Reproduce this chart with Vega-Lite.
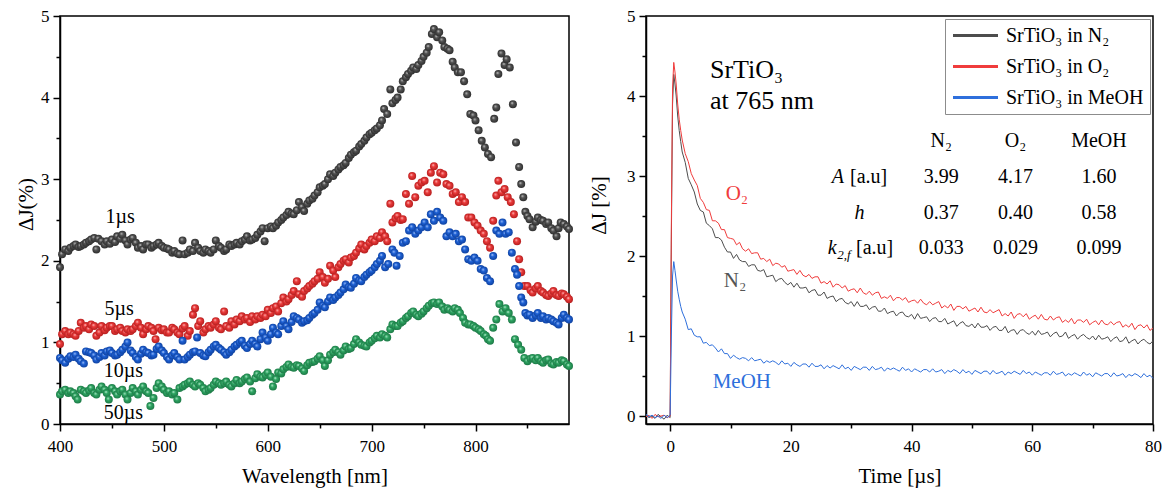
{
"$schema": "https://vega.github.io/schema/vega-lite/v6.json",
"padding": {"left": 14, "top": 6, "right": 5, "bottom": 5},
"spacing": 77,
"bounds": "flush",
"resolve": {"scale": {"color": "independent"}, "legend": {"color": "independent"}},
"datasets": {
"k1": [{"w":400,"y":1.92},{"w":402,"y":2.08},{"w":405,"y":2.14},{"w":408,"y":2.12},{"w":410,"y":2.16},{"w":413,"y":2.18},{"w":415,"y":2.2},{"w":418,"y":2.17},{"w":420,"y":2.18},{"w":423,"y":2.2},{"w":425,"y":2.22},{"w":428,"y":2.24},{"w":430,"y":2.26},{"w":433,"y":2.28},{"w":435,"y":2.14},{"w":437,"y":2.27},{"w":440,"y":2.24},{"w":443,"y":2.2},{"w":445,"y":2.24},{"w":448,"y":2.21},{"w":450,"y":2.26},{"w":453,"y":2.23},{"w":455,"y":2.3},{"w":458,"y":2.27},{"w":460,"y":2.32},{"w":463,"y":2.25},{"w":465,"y":2.2},{"w":468,"y":2.26},{"w":470,"y":2.28},{"w":473,"y":2.22},{"w":475,"y":2.16},{"w":478,"y":2.18},{"w":480,"y":2.14},{"w":483,"y":2.2},{"w":485,"y":2.2},{"w":488,"y":2.16},{"w":490,"y":2.18},{"w":493,"y":2.2},{"w":495,"y":2.22},{"w":498,"y":2.18},{"w":500,"y":2.16},{"w":503,"y":2.15},{"w":505,"y":2.14},{"w":508,"y":2.1},{"w":510,"y":2.12},{"w":513,"y":2.09},{"w":515,"y":2.08},{"w":518,"y":2.25},{"w":520,"y":2.08},{"w":523,"y":2.1},{"w":525,"y":2.14},{"w":528,"y":2.12},{"w":530,"y":2.22},{"w":533,"y":2.16},{"w":535,"y":2.12},{"w":538,"y":2.1},{"w":540,"y":2.14},{"w":543,"y":2.12},{"w":545,"y":2.1},{"w":548,"y":2.14},{"w":550,"y":2.25},{"w":553,"y":2.18},{"w":555,"y":2.16},{"w":558,"y":2.12},{"w":560,"y":2.14},{"w":563,"y":2.2},{"w":565,"y":2.18},{"w":568,"y":2.2},{"w":570,"y":2.22},{"w":573,"y":2.2},{"w":575,"y":2.24},{"w":578,"y":2.26},{"w":580,"y":2.3},{"w":583,"y":2.25},{"w":585,"y":2.26},{"w":588,"y":2.28},{"w":590,"y":2.32},{"w":593,"y":2.36},{"w":595,"y":2.4},{"w":597,"y":2.24},{"w":600,"y":2.4},{"w":603,"y":2.42},{"w":605,"y":2.4},{"w":608,"y":2.43},{"w":610,"y":2.47},{"w":613,"y":2.5},{"w":615,"y":2.53},{"w":618,"y":2.56},{"w":620,"y":2.6},{"w":623,"y":2.58},{"w":625,"y":2.57},{"w":628,"y":2.62},{"w":630,"y":2.72},{"w":633,"y":2.66},{"w":635,"y":2.61},{"w":638,"y":2.7},{"w":640,"y":2.74},{"w":643,"y":2.76},{"w":645,"y":2.8},{"w":648,"y":2.84},{"w":650,"y":2.9},{"w":653,"y":2.92},{"w":655,"y":2.94},{"w":658,"y":3.0},{"w":660,"y":3.06},{"w":663,"y":3.04},{"w":665,"y":3.08},{"w":668,"y":3.12},{"w":670,"y":3.15},{"w":673,"y":3.17},{"w":675,"y":3.2},{"w":678,"y":3.26},{"w":680,"y":3.3},{"w":683,"y":3.33},{"w":685,"y":3.35},{"w":688,"y":3.4},{"w":690,"y":3.43},{"w":693,"y":3.47},{"w":695,"y":3.51},{"w":698,"y":3.55},{"w":700,"y":3.57},{"w":703,"y":3.6},{"w":705,"y":3.62},{"w":708,"y":3.66},{"w":710,"y":3.72},{"w":712,"y":3.86},{"w":715,"y":3.8},{"w":718,"y":4.1},{"w":720,"y":3.93},{"w":723,"y":3.97},{"w":725,"y":4.0},{"w":728,"y":4.1},{"w":730,"y":4.2},{"w":733,"y":4.25},{"w":735,"y":4.29},{"w":738,"y":4.33},{"w":740,"y":4.37},{"w":743,"y":4.35},{"w":745,"y":4.4},{"w":748,"y":4.45},{"w":750,"y":4.5},{"w":753,"y":4.55},{"w":755,"y":4.62},{"w":758,"y":4.78},{"w":760,"y":4.84},{"w":763,"y":4.74},{"w":765,"y":4.8},{"w":768,"y":4.7},{"w":770,"y":4.62},{"w":773,"y":4.6},{"w":775,"y":4.58},{"w":778,"y":4.44},{"w":780,"y":4.37},{"w":783,"y":4.31},{"w":786,"y":4.31},{"w":789,"y":4.2},{"w":792,"y":4.04},{"w":795,"y":3.8},{"w":798,"y":3.78},{"w":800,"y":3.72},{"w":803,"y":3.6},{"w":806,"y":3.47},{"w":809,"y":3.39},{"w":812,"y":3.31},{"w":815,"y":3.27},{"w":818,"y":3.74},{"w":820,"y":3.88},{"w":822,"y":4.29},{"w":825,"y":4.54},{"w":828,"y":4.4},{"w":830,"y":4.47},{"w":833,"y":4.37},{"w":836,"y":3.92},{"w":839,"y":3.45},{"w":842,"y":3.15},{"w":844,"y":2.94},{"w":846,"y":2.78},{"w":848,"y":2.6},{"w":850,"y":2.55},{"w":852,"y":2.51},{"w":855,"y":2.41},{"w":858,"y":2.48},{"w":860,"y":2.53},{"w":863,"y":2.5},{"w":865,"y":2.49},{"w":868,"y":2.45},{"w":870,"y":2.47},{"w":873,"y":2.4},{"w":875,"y":2.37},{"w":878,"y":2.3},{"w":880,"y":2.4},{"w":882,"y":2.47},{"w":885,"y":2.45},{"w":888,"y":2.42},{"w":890,"y":2.39}],
"k5": [{"w":400,"y":0.98},{"w":402,"y":1.1},{"w":405,"y":1.14},{"w":408,"y":1.1},{"w":410,"y":1.12},{"w":413,"y":1.1},{"w":415,"y":1.08},{"w":418,"y":1.14},{"w":420,"y":1.24},{"w":423,"y":1.18},{"w":425,"y":1.2},{"w":428,"y":1.16},{"w":430,"y":1.22},{"w":433,"y":1.2},{"w":435,"y":1.08},{"w":438,"y":1.12},{"w":440,"y":1.2},{"w":443,"y":1.15},{"w":445,"y":1.18},{"w":448,"y":1.2},{"w":450,"y":1.2},{"w":453,"y":1.14},{"w":455,"y":1.16},{"w":458,"y":1.18},{"w":460,"y":1.14},{"w":463,"y":1.12},{"w":465,"y":1.16},{"w":468,"y":1.14},{"w":470,"y":1.16},{"w":473,"y":1.2},{"w":475,"y":1.24},{"w":478,"y":1.18},{"w":480,"y":1.1},{"w":483,"y":1.16},{"w":485,"y":1.2},{"w":488,"y":1.18},{"w":490,"y":1.14},{"w":492,"y":1.04},{"w":495,"y":1.18},{"w":498,"y":1.15},{"w":500,"y":1.16},{"w":503,"y":1.12},{"w":505,"y":1.12},{"w":508,"y":1.18},{"w":510,"y":1.16},{"w":513,"y":1.12},{"w":515,"y":1.1},{"w":518,"y":1.17},{"w":520,"y":1.2},{"w":523,"y":1.08},{"w":525,"y":1.14},{"w":528,"y":1.34},{"w":530,"y":1.42},{"w":533,"y":1.2},{"w":535,"y":1.26},{"w":538,"y":1.12},{"w":540,"y":1.16},{"w":543,"y":1.2},{"w":545,"y":1.18},{"w":548,"y":1.22},{"w":550,"y":1.26},{"w":553,"y":1.18},{"w":555,"y":1.16},{"w":558,"y":1.38},{"w":560,"y":1.2},{"w":563,"y":1.18},{"w":565,"y":1.26},{"w":568,"y":1.22},{"w":570,"y":1.28},{"w":573,"y":1.26},{"w":575,"y":1.32},{"w":578,"y":1.28},{"w":580,"y":1.3},{"w":583,"y":1.25},{"w":585,"y":1.32},{"w":588,"y":1.28},{"w":590,"y":1.32},{"w":593,"y":1.3},{"w":595,"y":1.34},{"w":598,"y":1.32},{"w":600,"y":1.4},{"w":603,"y":1.36},{"w":605,"y":1.42},{"w":608,"y":1.44},{"w":610,"y":1.38},{"w":613,"y":1.48},{"w":615,"y":1.55},{"w":618,"y":1.5},{"w":620,"y":1.53},{"w":623,"y":1.58},{"w":625,"y":1.63},{"w":628,"y":1.75},{"w":630,"y":1.59},{"w":633,"y":1.56},{"w":635,"y":1.63},{"w":638,"y":1.66},{"w":640,"y":1.69},{"w":643,"y":1.72},{"w":645,"y":1.75},{"w":648,"y":1.78},{"w":650,"y":1.86},{"w":653,"y":1.8},{"w":655,"y":1.73},{"w":658,"y":1.78},{"w":660,"y":1.94},{"w":663,"y":1.88},{"w":665,"y":1.8},{"w":668,"y":1.92},{"w":670,"y":1.96},{"w":673,"y":2.0},{"w":675,"y":2.02},{"w":678,"y":1.98},{"w":680,"y":2.04},{"w":683,"y":2.06},{"w":685,"y":2.1},{"w":688,"y":2.15},{"w":690,"y":2.2},{"w":693,"y":2.14},{"w":695,"y":2.18},{"w":698,"y":2.22},{"w":700,"y":2.26},{"w":703,"y":2.24},{"w":705,"y":2.3},{"w":708,"y":2.28},{"w":710,"y":2.35},{"w":713,"y":2.3},{"w":715,"y":2.24},{"w":718,"y":2.7},{"w":720,"y":2.47},{"w":723,"y":2.52},{"w":725,"y":2.55},{"w":728,"y":2.5},{"w":730,"y":2.51},{"w":733,"y":2.82},{"w":736,"y":2.7},{"w":739,"y":3.04},{"w":742,"y":2.78},{"w":745,"y":2.92},{"w":748,"y":2.96},{"w":751,"y":2.98},{"w":754,"y":2.84},{"w":757,"y":3.08},{"w":760,"y":3.16},{"w":763,"y":2.96},{"w":766,"y":3.08},{"w":769,"y":3.06},{"w":772,"y":2.94},{"w":775,"y":2.92},{"w":778,"y":2.82},{"w":781,"y":2.84},{"w":784,"y":2.72},{"w":787,"y":2.78},{"w":790,"y":2.72},{"w":793,"y":2.53},{"w":796,"y":2.53},{"w":799,"y":2.47},{"w":802,"y":2.43},{"w":805,"y":2.37},{"w":808,"y":2.33},{"w":811,"y":2.24},{"w":814,"y":2.16},{"w":817,"y":2.49},{"w":820,"y":2.8},{"w":822,"y":2.98},{"w":825,"y":2.84},{"w":828,"y":2.88},{"w":831,"y":2.78},{"w":834,"y":2.72},{"w":837,"y":2.57},{"w":840,"y":2.24},{"w":842,"y":2.02},{"w":844,"y":1.86},{"w":847,"y":1.69},{"w":850,"y":1.69},{"w":853,"y":1.64},{"w":855,"y":1.61},{"w":858,"y":1.66},{"w":860,"y":1.69},{"w":863,"y":1.63},{"w":865,"y":1.61},{"w":868,"y":1.58},{"w":870,"y":1.57},{"w":873,"y":1.6},{"w":875,"y":1.63},{"w":878,"y":1.58},{"w":880,"y":1.57},{"w":883,"y":1.6},{"w":885,"y":1.59},{"w":888,"y":1.56},{"w":890,"y":1.53}],
"k10": [{"w":400,"y":0.81},{"w":402,"y":0.78},{"w":405,"y":0.75},{"w":408,"y":0.8},{"w":410,"y":0.83},{"w":413,"y":0.82},{"w":415,"y":0.85},{"w":418,"y":0.8},{"w":420,"y":0.77},{"w":423,"y":0.74},{"w":425,"y":0.89},{"w":428,"y":0.88},{"w":430,"y":0.87},{"w":433,"y":0.84},{"w":435,"y":0.79},{"w":438,"y":0.82},{"w":440,"y":0.87},{"w":443,"y":0.84},{"w":445,"y":0.89},{"w":448,"y":0.9},{"w":450,"y":0.87},{"w":453,"y":0.84},{"w":455,"y":0.85},{"w":458,"y":0.88},{"w":460,"y":0.91},{"w":463,"y":0.95},{"w":465,"y":1.0},{"w":468,"y":0.9},{"w":470,"y":0.87},{"w":473,"y":0.82},{"w":475,"y":0.79},{"w":478,"y":0.86},{"w":480,"y":0.91},{"w":483,"y":0.88},{"w":485,"y":0.87},{"w":488,"y":0.84},{"w":490,"y":0.85},{"w":493,"y":0.92},{"w":495,"y":0.95},{"w":498,"y":0.9},{"w":500,"y":0.87},{"w":503,"y":0.82},{"w":505,"y":0.79},{"w":508,"y":0.84},{"w":510,"y":0.87},{"w":513,"y":0.82},{"w":515,"y":0.79},{"w":518,"y":1.02},{"w":520,"y":0.79},{"w":523,"y":0.82},{"w":525,"y":0.85},{"w":528,"y":0.88},{"w":530,"y":0.89},{"w":532,"y":1.06},{"w":535,"y":0.87},{"w":538,"y":0.84},{"w":540,"y":0.83},{"w":543,"y":0.88},{"w":545,"y":0.91},{"w":548,"y":0.95},{"w":550,"y":0.97},{"w":553,"y":0.93},{"w":555,"y":0.91},{"w":558,"y":0.88},{"w":560,"y":0.85},{"w":563,"y":0.88},{"w":565,"y":0.91},{"w":568,"y":0.95},{"w":570,"y":0.97},{"w":573,"y":1.0},{"w":575,"y":1.02},{"w":578,"y":0.96},{"w":580,"y":0.93},{"w":583,"y":0.98},{"w":585,"y":1.02},{"w":588,"y":0.98},{"w":590,"y":0.95},{"w":593,"y":1.04},{"w":595,"y":1.12},{"w":598,"y":1.06},{"w":600,"y":1.02},{"w":603,"y":1.1},{"w":605,"y":1.18},{"w":608,"y":1.12},{"w":610,"y":1.1},{"w":613,"y":1.2},{"w":615,"y":1.26},{"w":618,"y":1.2},{"w":620,"y":1.16},{"w":623,"y":1.25},{"w":625,"y":1.32},{"w":628,"y":1.3},{"w":630,"y":1.28},{"w":633,"y":1.24},{"w":635,"y":1.26},{"w":638,"y":1.27},{"w":640,"y":1.3},{"w":643,"y":1.34},{"w":645,"y":1.36},{"w":648,"y":1.4},{"w":650,"y":1.49},{"w":653,"y":1.45},{"w":655,"y":1.43},{"w":658,"y":1.5},{"w":660,"y":1.55},{"w":663,"y":1.52},{"w":665,"y":1.55},{"w":668,"y":1.58},{"w":670,"y":1.61},{"w":673,"y":1.65},{"w":675,"y":1.71},{"w":678,"y":1.68},{"w":680,"y":1.67},{"w":683,"y":1.72},{"w":685,"y":1.79},{"w":688,"y":1.76},{"w":690,"y":1.75},{"w":693,"y":1.8},{"w":695,"y":1.83},{"w":698,"y":1.86},{"w":700,"y":1.88},{"w":703,"y":1.92},{"w":705,"y":1.96},{"w":708,"y":2.0},{"w":710,"y":2.06},{"w":713,"y":1.92},{"w":716,"y":1.96},{"w":720,"y":2.14},{"w":722,"y":2.1},{"w":724,"y":1.94},{"w":727,"y":2.06},{"w":730,"y":2.22},{"w":733,"y":2.24},{"w":736,"y":2.37},{"w":739,"y":2.41},{"w":742,"y":2.33},{"w":745,"y":2.37},{"w":748,"y":2.41},{"w":751,"y":2.47},{"w":754,"y":2.41},{"w":757,"y":2.57},{"w":760,"y":2.49},{"w":763,"y":2.6},{"w":766,"y":2.53},{"w":769,"y":2.49},{"w":772,"y":2.3},{"w":775,"y":2.35},{"w":778,"y":2.3},{"w":781,"y":2.33},{"w":784,"y":2.24},{"w":787,"y":2.26},{"w":790,"y":2.14},{"w":793,"y":2.02},{"w":796,"y":2.0},{"w":799,"y":2.04},{"w":802,"y":2.0},{"w":805,"y":1.9},{"w":808,"y":1.88},{"w":811,"y":1.79},{"w":814,"y":1.75},{"w":817,"y":2.06},{"w":820,"y":2.37},{"w":823,"y":2.33},{"w":826,"y":2.47},{"w":829,"y":2.33},{"w":832,"y":2.35},{"w":835,"y":2.1},{"w":838,"y":1.9},{"w":840,"y":1.83},{"w":842,"y":1.69},{"w":844,"y":1.55},{"w":846,"y":1.49},{"w":848,"y":1.36},{"w":850,"y":1.33},{"w":852,"y":1.34},{"w":855,"y":1.3},{"w":858,"y":1.33},{"w":860,"y":1.36},{"w":863,"y":1.3},{"w":865,"y":1.32},{"w":868,"y":1.28},{"w":870,"y":1.3},{"w":873,"y":1.28},{"w":875,"y":1.26},{"w":878,"y":1.24},{"w":880,"y":1.22},{"w":883,"y":1.3},{"w":885,"y":1.34},{"w":888,"y":1.3},{"w":890,"y":1.28}],
"k50": [{"w":400,"y":0.36},{"w":402,"y":0.4},{"w":405,"y":0.42},{"w":408,"y":0.38},{"w":410,"y":0.4},{"w":413,"y":0.38},{"w":415,"y":0.34},{"w":417,"y":0.3},{"w":420,"y":0.42},{"w":423,"y":0.4},{"w":425,"y":0.38},{"w":428,"y":0.41},{"w":430,"y":0.44},{"w":433,"y":0.38},{"w":435,"y":0.36},{"w":438,"y":0.42},{"w":440,"y":0.46},{"w":443,"y":0.42},{"w":445,"y":0.38},{"w":447,"y":0.3},{"w":450,"y":0.44},{"w":453,"y":0.4},{"w":455,"y":0.36},{"w":458,"y":0.4},{"w":460,"y":0.42},{"w":463,"y":0.36},{"w":465,"y":0.3},{"w":468,"y":0.38},{"w":470,"y":0.44},{"w":473,"y":0.4},{"w":475,"y":0.36},{"w":478,"y":0.42},{"w":480,"y":0.46},{"w":483,"y":0.4},{"w":485,"y":0.38},{"w":487,"y":0.22},{"w":490,"y":0.32},{"w":493,"y":0.44},{"w":495,"y":0.5},{"w":498,"y":0.46},{"w":500,"y":0.42},{"w":503,"y":0.38},{"w":505,"y":0.4},{"w":508,"y":0.36},{"w":510,"y":0.38},{"w":513,"y":0.3},{"w":515,"y":0.44},{"w":518,"y":0.46},{"w":520,"y":0.48},{"w":523,"y":0.5},{"w":525,"y":0.52},{"w":528,"y":0.48},{"w":530,"y":0.46},{"w":533,"y":0.5},{"w":535,"y":0.48},{"w":538,"y":0.44},{"w":540,"y":0.4},{"w":543,"y":0.42},{"w":545,"y":0.44},{"w":548,"y":0.48},{"w":550,"y":0.52},{"w":553,"y":0.5},{"w":555,"y":0.48},{"w":558,"y":0.5},{"w":560,"y":0.52},{"w":563,"y":0.48},{"w":565,"y":0.46},{"w":568,"y":0.5},{"w":570,"y":0.54},{"w":573,"y":0.5},{"w":575,"y":0.52},{"w":578,"y":0.55},{"w":580,"y":0.57},{"w":583,"y":0.52},{"w":585,"y":0.4},{"w":588,"y":0.56},{"w":590,"y":0.61},{"w":593,"y":0.58},{"w":595,"y":0.57},{"w":598,"y":0.6},{"w":600,"y":0.63},{"w":603,"y":0.58},{"w":605,"y":0.46},{"w":608,"y":0.55},{"w":610,"y":0.63},{"w":613,"y":0.62},{"w":615,"y":0.67},{"w":618,"y":0.7},{"w":620,"y":0.73},{"w":623,"y":0.7},{"w":625,"y":0.69},{"w":628,"y":0.72},{"w":630,"y":0.71},{"w":633,"y":0.68},{"w":635,"y":0.65},{"w":638,"y":0.72},{"w":640,"y":0.75},{"w":643,"y":0.76},{"w":645,"y":0.77},{"w":648,"y":0.8},{"w":650,"y":0.83},{"w":653,"y":0.78},{"w":655,"y":0.71},{"w":658,"y":0.78},{"w":660,"y":0.85},{"w":663,"y":0.88},{"w":665,"y":0.91},{"w":668,"y":0.88},{"w":670,"y":0.85},{"w":673,"y":0.9},{"w":675,"y":0.95},{"w":678,"y":0.92},{"w":680,"y":0.93},{"w":683,"y":0.98},{"w":685,"y":1.04},{"w":688,"y":1.0},{"w":690,"y":0.97},{"w":693,"y":0.96},{"w":695,"y":0.95},{"w":698,"y":1.0},{"w":700,"y":1.02},{"w":703,"y":1.05},{"w":705,"y":1.08},{"w":708,"y":1.06},{"w":710,"y":1.1},{"w":713,"y":1.08},{"w":715,"y":1.06},{"w":718,"y":1.16},{"w":720,"y":1.22},{"w":723,"y":1.2},{"w":725,"y":1.2},{"w":728,"y":1.24},{"w":730,"y":1.26},{"w":733,"y":1.3},{"w":735,"y":1.32},{"w":738,"y":1.36},{"w":740,"y":1.38},{"w":743,"y":1.34},{"w":745,"y":1.32},{"w":748,"y":1.35},{"w":750,"y":1.38},{"w":753,"y":1.42},{"w":755,"y":1.45},{"w":758,"y":1.48},{"w":760,"y":1.49},{"w":763,"y":1.47},{"w":765,"y":1.49},{"w":768,"y":1.44},{"w":770,"y":1.4},{"w":773,"y":1.42},{"w":775,"y":1.4},{"w":778,"y":1.38},{"w":780,"y":1.42},{"w":783,"y":1.4},{"w":785,"y":1.36},{"w":788,"y":1.3},{"w":790,"y":1.24},{"w":793,"y":1.22},{"w":795,"y":1.22},{"w":798,"y":1.2},{"w":800,"y":1.18},{"w":803,"y":1.16},{"w":805,"y":1.14},{"w":808,"y":1.1},{"w":810,"y":1.08},{"w":812,"y":1.04},{"w":814,"y":1.02},{"w":817,"y":1.18},{"w":820,"y":1.28},{"w":823,"y":1.47},{"w":826,"y":1.38},{"w":829,"y":1.42},{"w":832,"y":1.36},{"w":835,"y":1.28},{"w":838,"y":1.04},{"w":841,"y":0.97},{"w":844,"y":0.91},{"w":847,"y":0.81},{"w":850,"y":0.77},{"w":853,"y":0.8},{"w":855,"y":0.81},{"w":858,"y":0.78},{"w":860,"y":0.81},{"w":863,"y":0.77},{"w":865,"y":0.75},{"w":868,"y":0.78},{"w":870,"y":0.79},{"w":873,"y":0.74},{"w":875,"y":0.73},{"w":878,"y":0.76},{"w":880,"y":0.75},{"w":883,"y":0.78},{"w":885,"y":0.77},{"w":888,"y":0.73},{"w":890,"y":0.71}],
"spLabels": [{"w":458,"y":2.54,"t":"1µs"},{"w":457,"y":1.41,"t":"5µs"},{"w":461,"y":0.65,"t":"10µs"},{"w":461,"y":0.13,"t":"50µs"}],
"tr": [
{"t":-4,"N2":0.01,"O2":-0.01,"MeOH":0.02},{"t":-3.5,"N2":-0.02,"O2":0.01,"MeOH":-0.01},{"t":-3,"N2":0.0,"O2":-0.03,"MeOH":0.01},{"t":-2.5,"N2":-0.03,"O2":0.02,"MeOH":-0.02},{"t":-2,"N2":0.02,"O2":-0.01,"MeOH":0.0},{"t":-1.5,"N2":-0.01,"O2":0.0,"MeOH":-0.03},{"t":-1,"N2":-0.04,"O2":0.01,"MeOH":0.01},{"t":-0.5,"N2":0.01,"O2":-0.02,"MeOH":-0.02},{"t":0,"N2":-0.02,"O2":0.0,"MeOH":0.01},
{"t":0.2,"N2":2.2,"O2":2.4,"MeOH":1.0},{"t":0.4,"N2":3.9,"O2":4.1,"MeOH":1.75},{"t":0.6,"N2":4.27,"O2":4.42,"MeOH":1.93},{"t":0.8,"N2":4.15,"O2":4.3,"MeOH":1.82},{"t":1.0,"N2":4.0,"O2":4.15,"MeOH":1.7},{"t":1.25,"N2":3.75,"O2":3.9,"MeOH":1.56},{"t":1.5,"N2":3.57,"O2":3.71,"MeOH":1.46},{"t":1.75,"N2":3.43,"O2":3.57,"MeOH":1.37},{"t":2.0,"N2":3.3,"O2":3.45,"MeOH":1.3},
{"t":2.5,"N2":3.17,"O2":3.28,"MeOH":1.21},{"t":3,"N2":2.97,"O2":3.18,"MeOH":1.08},{"t":3.5,"N2":2.89,"O2":3.03,"MeOH":1.09},{"t":4,"N2":2.8,"O2":2.95,"MeOH":1.01},{"t":4.5,"N2":2.65,"O2":2.88,"MeOH":0.99},{"t":5,"N2":2.57,"O2":2.72,"MeOH":0.99},{"t":5.5,"N2":2.55,"O2":2.67,"MeOH":0.91},{"t":6,"N2":2.41,"O2":2.58,"MeOH":0.92},{"t":6.5,"N2":2.38,"O2":2.57,"MeOH":0.88},{"t":7,"N2":2.34,"O2":2.44,"MeOH":0.89},{"t":7.5,"N2":2.23,"O2":2.44,"MeOH":0.85},{"t":8,"N2":2.23,"O2":2.41,"MeOH":0.8},{"t":8.5,"N2":2.2,"O2":2.33,"MeOH":0.84},{"t":9,"N2":2.11,"O2":2.33,"MeOH":0.78},{"t":9.5,"N2":2.05,"O2":2.23,"MeOH":0.78},{"t":10,"N2":2.05,"O2":2.22,"MeOH":0.72},{"t":10.5,"N2":1.97,"O2":2.21,"MeOH":0.76},{"t":11,"N2":2.02,"O2":2.14,"MeOH":0.73},{"t":11.5,"N2":1.95,"O2":2.17,"MeOH":0.71},{"t":12,"N2":1.93,"O2":2.09,"MeOH":0.73},
{"t":12.5,"N2":1.93,"O2":2.06,"MeOH":0.72},{"t":13,"N2":1.87,"O2":2.09,"MeOH":0.69},{"t":13.5,"N2":1.89,"O2":2.03,"MeOH":0.73},{"t":14,"N2":1.89,"O2":2.04,"MeOH":0.69},{"t":14.5,"N2":1.82,"O2":2.04,"MeOH":0.7},{"t":15,"N2":1.81,"O2":1.96,"MeOH":0.71},{"t":15.5,"N2":1.83,"O2":1.97,"MeOH":0.66},{"t":16,"N2":1.74,"O2":1.93,"MeOH":0.69},{"t":16.5,"N2":1.75,"O2":1.96,"MeOH":0.67},{"t":17,"N2":1.76,"O2":1.88,"MeOH":0.69},{"t":17.5,"N2":1.68,"O2":1.91,"MeOH":0.67},{"t":18,"N2":1.71,"O2":1.9,"MeOH":0.64},{"t":18.5,"N2":1.72,"O2":1.86,"MeOH":0.69},{"t":19,"N2":1.67,"O2":1.88,"MeOH":0.65},{"t":19.5,"N2":1.64,"O2":1.81,"MeOH":0.66},{"t":20,"N2":1.67,"O2":1.82,"MeOH":0.62},
{"t":20.5,"N2":1.61,"O2":1.83,"MeOH":0.67},{"t":21,"N2":1.66,"O2":1.77,"MeOH":0.64},{"t":21.5,"N2":1.6,"O2":1.82,"MeOH":0.62},{"t":22,"N2":1.6,"O2":1.76,"MeOH":0.65},{"t":22.5,"N2":1.61,"O2":1.74,"MeOH":0.65},{"t":23,"N2":1.54,"O2":1.77,"MeOH":0.61},{"t":23.5,"N2":1.57,"O2":1.72,"MeOH":0.66},{"t":24,"N2":1.58,"O2":1.74,"MeOH":0.62},{"t":24.5,"N2":1.51,"O2":1.74,"MeOH":0.62},{"t":25,"N2":1.51,"O2":1.66,"MeOH":0.64},
{"t":25.5,"N2":1.55,"O2":1.68,"MeOH":0.59},{"t":26,"N2":1.47,"O2":1.65,"MeOH":0.63},{"t":26.5,"N2":1.49,"O2":1.69,"MeOH":0.6},{"t":27,"N2":1.5,"O2":1.61,"MeOH":0.63},{"t":27.5,"N2":1.43,"O2":1.65,"MeOH":0.61},{"t":28,"N2":1.46,"O2":1.64,"MeOH":0.59},{"t":28.5,"N2":1.47,"O2":1.6,"MeOH":0.64},{"t":29,"N2":1.42,"O2":1.63,"MeOH":0.59},{"t":29.5,"N2":1.4,"O2":1.56,"MeOH":0.61},{"t":30,"N2":1.43,"O2":1.58,"MeOH":0.57},
{"t":30.5,"N2":1.37,"O2":1.59,"MeOH":0.62},{"t":31,"N2":1.43,"O2":1.54,"MeOH":0.6},{"t":31.5,"N2":1.37,"O2":1.6,"MeOH":0.58},{"t":32,"N2":1.37,"O2":1.54,"MeOH":0.61},{"t":32.5,"N2":1.39,"O2":1.52,"MeOH":0.61},{"t":33,"N2":1.33,"O2":1.56,"MeOH":0.57},{"t":33.5,"N2":1.36,"O2":1.51,"MeOH":0.62},{"t":34,"N2":1.37,"O2":1.54,"MeOH":0.58},{"t":34.5,"N2":1.31,"O2":1.55,"MeOH":0.59},{"t":35,"N2":1.31,"O2":1.47,"MeOH":0.61},
{"t":35.5,"N2":1.35,"O2":1.49,"MeOH":0.56},{"t":36,"N2":1.28,"O2":1.47,"MeOH":0.6},{"t":36.5,"N2":1.3,"O2":1.51,"MeOH":0.58},{"t":37,"N2":1.31,"O2":1.44,"MeOH":0.6},{"t":37.5,"N2":1.25,"O2":1.48,"MeOH":0.58},{"t":38,"N2":1.29,"O2":1.48,"MeOH":0.56},{"t":38.5,"N2":1.3,"O2":1.45,"MeOH":0.61},{"t":39,"N2":1.25,"O2":1.48,"MeOH":0.57},{"t":39.5,"N2":1.24,"O2":1.42,"MeOH":0.59},{"t":40,"N2":1.27,"O2":1.44,"MeOH":0.55},
{"t":40.5,"N2":1.21,"O2":1.45,"MeOH":0.59},{"t":41,"N2":1.28,"O2":1.41,"MeOH":0.57},{"t":41.5,"N2":1.22,"O2":1.46,"MeOH":0.55},{"t":42,"N2":1.23,"O2":1.41,"MeOH":0.58},{"t":42.5,"N2":1.24,"O2":1.39,"MeOH":0.58},{"t":43,"N2":1.18,"O2":1.43,"MeOH":0.55},{"t":43.5,"N2":1.22,"O2":1.39,"MeOH":0.59},{"t":44,"N2":1.23,"O2":1.41,"MeOH":0.55},{"t":44.5,"N2":1.18,"O2":1.43,"MeOH":0.56},{"t":45,"N2":1.18,"O2":1.35,"MeOH":0.58},
{"t":45.5,"N2":1.22,"O2":1.38,"MeOH":0.53},{"t":46,"N2":1.15,"O2":1.35,"MeOH":0.57},{"t":46.5,"N2":1.17,"O2":1.4,"MeOH":0.55},{"t":47,"N2":1.19,"O2":1.32,"MeOH":0.58},{"t":47.5,"N2":1.12,"O2":1.37,"MeOH":0.56},{"t":48,"N2":1.16,"O2":1.37,"MeOH":0.53},{"t":48.5,"N2":1.18,"O2":1.34,"MeOH":0.58},{"t":49,"N2":1.13,"O2":1.37,"MeOH":0.54},{"t":49.5,"N2":1.12,"O2":1.31,"MeOH":0.56},{"t":50,"N2":1.15,"O2":1.33,"MeOH":0.52},
{"t":50.5,"N2":1.1,"O2":1.35,"MeOH":0.57},{"t":51,"N2":1.16,"O2":1.3,"MeOH":0.55},{"t":51.5,"N2":1.11,"O2":1.36,"MeOH":0.53},{"t":52,"N2":1.11,"O2":1.3,"MeOH":0.56},{"t":52.5,"N2":1.13,"O2":1.29,"MeOH":0.56},{"t":53,"N2":1.07,"O2":1.33,"MeOH":0.52},{"t":53.5,"N2":1.11,"O2":1.29,"MeOH":0.57},{"t":54,"N2":1.12,"O2":1.31,"MeOH":0.53},{"t":54.5,"N2":1.07,"O2":1.33,"MeOH":0.54},{"t":55,"N2":1.07,"O2":1.25,"MeOH":0.56},
{"t":55.5,"N2":1.12,"O2":1.28,"MeOH":0.51},{"t":56,"N2":1.04,"O2":1.25,"MeOH":0.55},{"t":56.5,"N2":1.07,"O2":1.3,"MeOH":0.53},{"t":57,"N2":1.08,"O2":1.22,"MeOH":0.56},{"t":57.5,"N2":1.02,"O2":1.27,"MeOH":0.54},{"t":58,"N2":1.07,"O2":1.28,"MeOH":0.52},{"t":58.5,"N2":1.08,"O2":1.24,"MeOH":0.57},{"t":59,"N2":1.04,"O2":1.28,"MeOH":0.53},{"t":59.5,"N2":1.02,"O2":1.21,"MeOH":0.55},{"t":60,"N2":1.06,"O2":1.24,"MeOH":0.51},
{"t":60.5,"N2":1.01,"O2":1.26,"MeOH":0.55},{"t":61,"N2":1.07,"O2":1.21,"MeOH":0.53},{"t":61.5,"N2":1.02,"O2":1.27,"MeOH":0.51},{"t":62,"N2":1.03,"O2":1.21,"MeOH":0.54},{"t":62.5,"N2":1.05,"O2":1.2,"MeOH":0.54},{"t":63,"N2":0.99,"O2":1.25,"MeOH":0.51},{"t":63.5,"N2":1.03,"O2":1.2,"MeOH":0.56},{"t":64,"N2":1.05,"O2":1.23,"MeOH":0.52},{"t":64.5,"N2":0.99,"O2":1.24,"MeOH":0.53},{"t":65,"N2":1.0,"O2":1.17,"MeOH":0.55},
{"t":65.5,"N2":1.05,"O2":1.2,"MeOH":0.5},{"t":66,"N2":0.97,"O2":1.17,"MeOH":0.53},{"t":66.5,"N2":1.0,"O2":1.22,"MeOH":0.51},{"t":67,"N2":1.02,"O2":1.15,"MeOH":0.54},{"t":67.5,"N2":0.96,"O2":1.2,"MeOH":0.52},{"t":68,"N2":1.0,"O2":1.2,"MeOH":0.5},{"t":68.5,"N2":1.02,"O2":1.17,"MeOH":0.55},{"t":69,"N2":0.98,"O2":1.21,"MeOH":0.51},{"t":69.5,"N2":0.96,"O2":1.14,"MeOH":0.53},{"t":70,"N2":1.0,"O2":1.17,"MeOH":0.49},
{"t":70.5,"N2":0.95,"O2":1.19,"MeOH":0.54},{"t":71,"N2":1.01,"O2":1.14,"MeOH":0.52},{"t":71.5,"N2":0.96,"O2":1.2,"MeOH":0.5},{"t":72,"N2":0.97,"O2":1.15,"MeOH":0.53},{"t":72.5,"N2":0.99,"O2":1.14,"MeOH":0.53},{"t":73,"N2":0.93,"O2":1.18,"MeOH":0.49},{"t":73.5,"N2":0.97,"O2":1.14,"MeOH":0.54},{"t":74,"N2":0.99,"O2":1.17,"MeOH":0.5},{"t":74.5,"N2":0.93,"O2":1.18,"MeOH":0.51},{"t":75,"N2":0.94,"O2":1.11,"MeOH":0.53},
{"t":75.5,"N2":0.99,"O2":1.14,"MeOH":0.48},{"t":76,"N2":0.91,"O2":1.11,"MeOH":0.52},{"t":76.5,"N2":0.94,"O2":1.16,"MeOH":0.5},{"t":77,"N2":0.96,"O2":1.08,"MeOH":0.53},{"t":77.5,"N2":0.9,"O2":1.13,"MeOH":0.51},{"t":78,"N2":0.94,"O2":1.14,"MeOH":0.48},{"t":78.5,"N2":0.96,"O2":1.1,"MeOH":0.53},{"t":79,"N2":0.92,"O2":1.14,"MeOH":0.49},{"t":79.5,"N2":0.9,"O2":1.07,"MeOH":0.51},{"t":80,"N2":0.94,"O2":1.1,"MeOH":0.47}
],
"titleTxt": [{"t":6.6,"v":4.23,"s":"SrTiO₃"},{"t":6.6,"v":3.84,"s":"at 765 nm"}],
"tableC": [{"t":44.9,"v":3.44,"s":"N₂"},{"t":57.2,"v":3.44,"s":"O₂"},{"t":71.05,"v":3.44,"s":"MeOH"},{"t":44.9,"v":2.99,"s":"3.99"},{"t":57.2,"v":2.99,"s":"4.17"},{"t":71.05,"v":2.99,"s":"1.60"},{"t":44.9,"v":2.54,"s":"0.37"},{"t":57.2,"v":2.54,"s":"0.40"},{"t":71.05,"v":2.54,"s":"0.58"},{"t":44.9,"v":2.1,"s":"0.033"},{"t":57.2,"v":2.1,"s":"0.029"},{"t":71.05,"v":2.1,"s":"0.099"}],
"tableL": [{"t":29.8,"v":2.99,"s":"[a.u]"},{"t":30.8,"v":2.1,"s":"[a.u]"}],
"tableI": [{"t":28.8,"v":2.99,"s":"A"},{"t":32.2,"v":2.54,"s":"h"},{"t":27.6,"v":2.1,"s":"k"}],
"tableSub": [{"t":27.7,"v":2.1,"s":"2,f"}],
"lblO": [{"t":9.2,"v":2.78,"s":"O₂"}],
"lblN": [{"t":8.9,"v":1.69,"s":"N₂"}],
"lblM": [{"t":7.05,"v":0.42,"s":"MeOH"}]
},
"hconcat": [
{
"width": 509, "height": 408,
"layer": [
{"data": {"name": "k1"}, "mark": {"type": "point", "filled": true, "size": 64, "opacity": 1, "fill": {"gradient": "radial", "x1": 0.38, "y1": 0.35, "r1": 0.0, "x2": 0.5, "y2": 0.5, "r2": 0.55, "stops": [{"offset": 0, "color": "#d8d8d8"}, {"offset": 0.35, "color": "#555555"}, {"offset": 1, "color": "#2a2a2a"}]}},
 "encoding": {
  "x": {"field": "w", "type": "quantitative", "scale": {"domain": [400, 890], "nice": false, "zero": false}, "axis": {"values": [400, 500, 600, 700, 800], "title": "Wavelength [nm]", "labelPadding": 7, "titlePadding": 11, "orient": "bottom"}},
  "y": {"field": "y", "type": "quantitative", "scale": {"domain": [0, 5], "nice": false}, "axis": {"values": [0, 1, 2, 3, 4, 5], "title": "ΔJ(%)", "titlePadding": 4, "titleY": 188, "orient": "left"}}}},
{"data": {"name": "k5"}, "mark": {"type": "point", "filled": true, "size": 64, "opacity": 1, "fill": {"gradient": "radial", "x1": 0.38, "y1": 0.35, "r1": 0.0, "x2": 0.5, "y2": 0.5, "r2": 0.55, "stops": [{"offset": 0, "color": "#ffd0d0"}, {"offset": 0.35, "color": "#ec3b3b"}, {"offset": 1, "color": "#b01c1c"}]}},
 "encoding": {"x": {"field": "w", "type": "quantitative", "axis": null}, "y": {"field": "y", "type": "quantitative", "axis": null}}},
{"data": {"name": "k10"}, "mark": {"type": "point", "filled": true, "size": 64, "opacity": 1, "fill": {"gradient": "radial", "x1": 0.38, "y1": 0.35, "r1": 0.0, "x2": 0.5, "y2": 0.5, "r2": 0.55, "stops": [{"offset": 0, "color": "#c8dcff"}, {"offset": 0.35, "color": "#1e62d8"}, {"offset": 1, "color": "#0e3f9a"}]}},
 "encoding": {"x": {"field": "w", "type": "quantitative", "axis": null}, "y": {"field": "y", "type": "quantitative", "axis": null}}},
{"data": {"name": "k50"}, "mark": {"type": "point", "filled": true, "size": 64, "opacity": 1, "fill": {"gradient": "radial", "x1": 0.38, "y1": 0.35, "r1": 0.0, "x2": 0.5, "y2": 0.5, "r2": 0.55, "stops": [{"offset": 0, "color": "#d0f5e0"}, {"offset": 0.35, "color": "#2fa864"}, {"offset": 1, "color": "#1b7443"}]}},
 "encoding": {"x": {"field": "w", "type": "quantitative", "axis": null}, "y": {"field": "y", "type": "quantitative", "axis": null}}},
{"data": {"name": "spLabels"}, "mark": {"type": "text", "font": "Liberation Serif", "fontSize": 20, "align": "center", "baseline": "middle", "color": "black"},
 "encoding": {"x": {"field": "w", "type": "quantitative", "axis": {"values": [450, 550, 650, 750, 850], "labels": false, "domain": false, "tickSize": 4, "title": null, "orient": "bottom"}},
  "y": {"field": "y", "type": "quantitative", "axis": {"values": [0.5, 1.5, 2.5, 3.5, 4.5], "labels": false, "domain": false, "tickSize": 4, "title": null, "orient": "left"}},
  "text": {"field": "t"}}}
],
"resolve": {"axis": {"x": "independent", "y": "independent"}}
},
{
"width": 507, "height": 408,
"layer": [
{"data": {"name": "tr"}, "transform": [{"fold": ["N2", "O2", "MeOH"], "as": ["k", "v"]}],
 "mark": {"type": "line", "strokeWidth": 1},
 "encoding": {
  "x": {"field": "t", "type": "quantitative", "scale": {"domain": [-4, 80], "nice": false, "zero": false}, "axis": {"values": [0, 20, 40, 60, 80], "title": "Time [µs]", "labelPadding": 7, "titlePadding": 11, "orient": "bottom"}},
  "y": {"field": "v", "type": "quantitative", "scale": {"domain": [-0.1, 5], "nice": false, "zero": false}, "axis": {"values": [0, 1, 2, 3, 4, 5], "title": "ΔJ [%]", "titlePadding": 17, "titleY": 189, "orient": "left"}},
  "color": {"field": "k", "type": "nominal", "scale": {"domain": ["N2", "O2", "MeOH"], "range": ["#4d4d4d", "#f03c3c", "#2e6fdc"]},
   "legend": {"title": null, "orient": "top-right", "offset": 3, "strokeColor": "#8c8c8c", "fillColor": "white", "padding": 6, "symbolType": "M-2.5,0H2.5", "symbolSize": 324, "symbolStrokeWidth": 3, "symbolOffset": 14, "labelOffset": 20, "labelFont": "Liberation Serif", "labelFontSize": 20, "labelColor": "black", "rowPadding": 10, "labelLimit": 300,
    "labelExpr": "datum.label == 'N2' ? 'SrTiO₃ in N₂' : datum.label == 'O2' ? 'SrTiO₃ in O₂' : 'SrTiO₃ in MeOH'"}}}},
{"data": {"name": "titleTxt"}, "mark": {"type": "text", "font": "Liberation Serif", "fontSize": 26, "align": "left", "baseline": "alphabetic", "color": "black"},
 "encoding": {"x": {"field": "t", "type": "quantitative", "axis": null}, "y": {"field": "v", "type": "quantitative", "axis": null}, "text": {"field": "s"}}},
{"data": {"name": "tableC"}, "mark": {"type": "text", "font": "Liberation Serif", "fontSize": 20, "align": "center", "baseline": "middle", "color": "black"},
 "encoding": {"x": {"field": "t", "type": "quantitative", "axis": {"values": [10, 30, 50, 70], "labels": false, "domain": false, "tickSize": 4, "title": null, "orient": "bottom"}},
  "y": {"field": "v", "type": "quantitative", "axis": {"values": [0.5, 1.5, 2.5, 3.5, 4.5], "labels": false, "domain": false, "tickSize": 4, "title": null, "orient": "left"}},
  "text": {"field": "s"}}},
{"data": {"name": "tableL"}, "mark": {"type": "text", "font": "Liberation Serif", "fontSize": 20, "align": "left", "baseline": "middle", "color": "black"},
 "encoding": {"x": {"field": "t", "type": "quantitative", "axis": null}, "y": {"field": "v", "type": "quantitative", "axis": null}, "text": {"field": "s"}}},
{"data": {"name": "tableI"}, "mark": {"type": "text", "font": "Liberation Serif", "fontSize": 20, "fontStyle": "italic", "align": "right", "baseline": "middle", "color": "black"},
 "encoding": {"x": {"field": "t", "type": "quantitative", "axis": null}, "y": {"field": "v", "type": "quantitative", "axis": null}, "text": {"field": "s"}}},
{"data": {"name": "tableSub"}, "mark": {"type": "text", "font": "Liberation Serif", "fontSize": 13, "fontStyle": "italic", "align": "left", "baseline": "middle", "dy": 7, "color": "black"},
 "encoding": {"x": {"field": "t", "type": "quantitative", "axis": null}, "y": {"field": "v", "type": "quantitative", "axis": null}, "text": {"field": "s"}}},
{"data": {"name": "lblO"}, "mark": {"type": "text", "font": "Liberation Serif", "fontSize": 21, "align": "left", "baseline": "middle", "color": "#f03c3c"},
 "encoding": {"x": {"field": "t", "type": "quantitative", "axis": null}, "y": {"field": "v", "type": "quantitative", "axis": null}, "text": {"field": "s"}}},
{"data": {"name": "lblN"}, "mark": {"type": "text", "font": "Liberation Serif", "fontSize": 21, "align": "left", "baseline": "middle", "color": "#555555"},
 "encoding": {"x": {"field": "t", "type": "quantitative", "axis": null}, "y": {"field": "v", "type": "quantitative", "axis": null}, "text": {"field": "s"}}},
{"data": {"name": "lblM"}, "mark": {"type": "text", "font": "Liberation Serif", "fontSize": 21, "align": "left", "baseline": "middle", "color": "#2e6fdc"},
 "encoding": {"x": {"field": "t", "type": "quantitative", "axis": null}, "y": {"field": "v", "type": "quantitative", "axis": null}, "text": {"field": "s"}}}
],
"resolve": {"axis": {"x": "independent", "y": "independent"}}
}
],
"config": {
 "font": "Liberation Serif",
 "view": {"stroke": "black", "strokeWidth": 1.5},
 "axis": {"domainColor": "black", "domainWidth": 1.5, "tickColor": "black", "tickWidth": 1.5, "tickSize": 7, "labelFont": "Liberation Serif", "labelFontSize": 17, "labelColor": "black", "titleFont": "Liberation Serif", "titleFontSize": 21, "titleFontWeight": "normal", "titleColor": "black", "grid": false, "labelPadding": 4, "labelFlush": false, "labelOverlap": false}
}
}
